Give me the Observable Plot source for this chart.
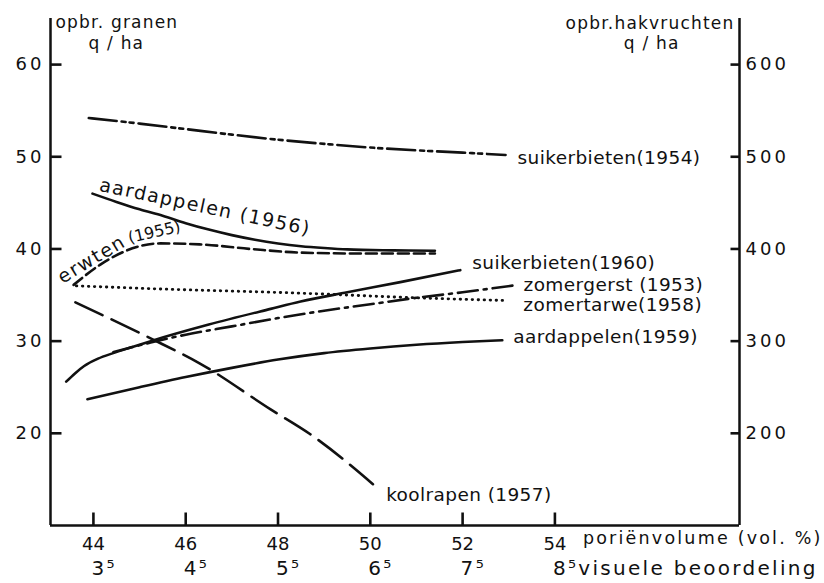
<!DOCTYPE html>
<html><head><meta charset="utf-8">
<script src="https://cdn.jsdelivr.net/npm/d3@7"></script>
<script src="https://cdn.jsdelivr.net/npm/@observablehq/plot@0.6"></script>
<style>
body{margin:0;background:#fff;}
#chart svg text{font-family:"DejaVu Sans",sans-serif;}
g[font-size="20"] text{letter-spacing:2.3px;}
g[font-size="17.5"] text{letter-spacing:2.2px;}
g[font-size="17"] text{letter-spacing:1.2px;}
g[font-size="18.5"] text{letter-spacing:0.4px;}
g[font-size="19"] text{letter-spacing:1.5px;}
g[aria-label="y-axis tick label"] text{letter-spacing:3px;}
g[aria-label="x-axis tick label"] text{letter-spacing:0px;}
</style></head><body><div id="chart"></div>
<script>
// ---- scales / ticks ----
const poreDomain = [43.07, 58];
const yieldDomain = [10, 65];           // q/ha granen (left); hakvruchten = x10 (right)
const granenTicks = [20, 30, 40, 50, 60];
const hakTicks = [200, 300, 400, 500, 600];
const poreTicks = [44, 46, 48, 50, 52, 54];
const visueleLabels = ["3⁵", "4⁵", "5⁵", "6⁵", "7⁵", "8⁵visuele beoordeling"];

// ---- hakvruchten series (q/ha, right axis) ----
const suiker1954X = [43.9, 45, 46, 47, 48, 49, 50, 51, 52, 52.93];
const suiker1954Y = [542, 536, 530, 524, 518.5, 514, 510, 507, 504.5, 502];
const aard1956X = [43.98, 44.5, 45, 45.5, 46, 46.5, 47, 47.5, 48, 48.5, 49, 49.5, 50.5, 51.4];
const aard1956Y = [460, 451, 443, 436, 428, 421, 415, 410, 406, 403, 401, 399.5, 398.5, 398];
const suiker1960X = [43.41, 43.6, 43.8, 44.1, 44.43, 44.8, 45.24, 46.5, 47.84, 48.49, 49.5, 50.65, 51.95];
const suiker1960Y = [256, 265, 273, 281, 287, 293, 300, 318, 335, 343, 353, 364, 377];
const aard1959X = [43.87, 45, 46, 47, 48, 49, 50, 51, 52, 52.86];
const aard1959Y = [237, 250, 261, 271, 280, 287, 292, 296, 299, 301];
const kool1957X = [43.61, 45.24, 46.3, 47.84, 48.7, 50.17];
const kool1957Y = [342, 303, 276, 226, 199, 140];

// ---- granen series (q/ha, left axis) ----
const erwten1955X = [43.57, 44.15, 45.0, 45.45, 46.3, 47.4, 48.5, 50, 51.4];
const erwten1955Y = [36.1, 38.3, 40.3, 40.6, 40.5, 40.0, 39.6, 39.5, 39.5];
const gerst1953X = [44.43, 45.24, 46, 47, 48, 49, 50, 51, 52, 53.19];
const gerst1953Y = [28.8, 29.85, 30.7, 31.6, 32.5, 33.3, 34.0, 34.7, 35.3, 36.1];
const tarwe1958X = [43.63, 45.2, 48.5, 51, 52.97];
const tarwe1958Y = [36.0, 35.7, 35.2, 34.7, 34.4];

const rows = (xs, ys, hak) => xs.map((x, i) => ({x, y: hak ? ys[i] / 10 : ys[i]}));
const S = {
  s1954: rows(suiker1954X, suiker1954Y, true),
  a1956: rows(aard1956X, aard1956Y, true),
  s1960: rows(suiker1960X, suiker1960Y, true),
  a1959: rows(aard1959X, aard1959Y, true),
  k1957: rows(kool1957X, kool1957Y, true),
  e1955: rows(erwten1955X, erwten1955Y, false),
  g1953: rows(gerst1953X, gerst1953Y, false),
  t1958: rows(tarwe1958X, tarwe1958Y, false)
};
const ink = "#111";
const W = 824, H = 583, mL = 50, mR = 85, mT = 18, mB = 58;
const fw = W - mL - mR, fh = H - mT - mB;
const line = (d, o = {}) => Plot.line(d, {x: "x", y: "y", curve: "monotone-x", stroke: ink, strokeWidth: 2.6, ...o});
const endLabel = (d, text, o) => Plot.text([d[d.length - 1]], {x: "x", y: "y", text: () => text, textAnchor: "start", fontSize: 18.5, fill: ink, ...o});
const atLabel = (d, i, text, o) => Plot.text([d[i]], {x: "x", y: "y", text: () => text, textAnchor: "start", fill: ink, ...o});
const pxX = fw / (poreDomain[1] - poreDomain[0]);   // pixels per x unit
const pxY = fh / (yieldDomain[1] - yieldDomain[0]); // pixels per y unit

const chart = Plot.plot({
  width: W, height: H,
  marginLeft: mL, marginRight: mR, marginTop: mT, marginBottom: mB,
  style: {fontFamily: "DejaVu Sans", fontSize: "18px", background: "#fff", color: ink, overflow: "visible"},
  x: {domain: poreDomain, axis: null},
  y: {domain: yieldDomain, axis: null},
  marks: [
    // axis lines
    Plot.ruleX(poreDomain, {stroke: ink, strokeWidth: 2.5}),
    Plot.ruleY([yieldDomain[0]], {stroke: ink, strokeWidth: 2.5}),
    // tick labels
    Plot.axisY(granenTicks, {anchor: "left", label: null, tickSize: 0, tickPadding: 6, fontSize: 18, fill: ink}),
    Plot.axisY(hakTicks.map(v => v / 10), {anchor: "right", label: null, tickSize: 0, tickPadding: 6, fontSize: 18, fill: ink, tickFormat: d => hakTicks[granenTicks.indexOf(d)]}),
    Plot.axisX(poreTicks, {anchor: "bottom", label: null, tickSize: 0, tickPadding: 12, fontSize: 18, fill: ink}),
    Plot.text(poreTicks, {x: d => d, frameAnchor: "bottom", dy: 49, text: d => visueleLabels[poreTicks.indexOf(d)], textAnchor: "start", fontSize: 20, fill: ink, dx: -2}),
    Plot.text([poreTicks[poreTicks.length - 1]], {x: d => d, frameAnchor: "bottom", dy: 18, text: () => "poriënvolume (vol. %)", textAnchor: "start", fontSize: 17.5, fill: ink, dx: 28}),
    // axis titles
    Plot.text(["opbr. granen"], {frameAnchor: "top-left", text: d => d, textAnchor: "start", lineAnchor: "middle", dx: 5, dy: 4, fontSize: 17, fill: ink}),
    Plot.text(["q / ha"], {frameAnchor: "top-left", text: d => d, textAnchor: "start", lineAnchor: "middle", dx: 38, dy: 25, fontSize: 17, fill: ink}),
    Plot.text(["opbr.hakvruchten"], {frameAnchor: "top-right", text: d => d, textAnchor: "end", lineAnchor: "middle", dx: -5, dy: 5, fontSize: 17, fill: ink}),
    Plot.text(["q / ha"], {frameAnchor: "top-right", text: d => d, textAnchor: "end", lineAnchor: "middle", dx: -60, dy: 25, fontSize: 17, fill: ink}),
    // curves
    line(S.s1954, {strokeDasharray: "28,5,4,4,4,5"}),
    line(S.a1956),
    line(S.e1955, {strokeDasharray: "11,5"}),
    line(S.t1958, {strokeDasharray: "0.5,5.5", strokeLinecap: "round", strokeWidth: 2.8}),
    line(S.g1953, {strokeDasharray: "20,6,3,6"}),
    line(S.s1960),
    line(S.a1959),
    line(S.k1957, {strokeDasharray: "30,10"}),
    // labels
    endLabel(S.s1954, "suikerbieten(1954)", {dx: 12, dy: 3}),
    endLabel(S.s1960, "suikerbieten(1960)", {dx: 12, dy: -7}),
    endLabel(S.g1953, "zomergerst (1953)", {dx: 6, dy: 0}),
    endLabel(S.t1958, "zomertarwe(1958)", {dx: 16, dy: 5}),
    endLabel(S.a1959, "aardappelen(1959)", {dx: 11, dy: -3}),
    endLabel(S.k1957, "koolrapen (1957)", {dx: 8, dy: 6}),
    atLabel(S.a1956, 0, "aardappelen (1956)", {dx: 6, dy: -3, rotate: 12, lineAnchor: "bottom", fontSize: 19}),
    atLabel(S.e1955, 0, "erwten", {dx: -11, dy: -1, rotate: -31, lineAnchor: "bottom", fontSize: 19}),
    atLabel(S.e1955, 2, "(1955)", {dx: -10, dy: -3, rotate: -13, lineAnchor: "bottom", fontSize: 16}),
    // inward tick marks (short links), drawn on top
    Plot.link(granenTicks, {x1: () => poreDomain[0], x2: () => poreDomain[0] + 11 / pxX, y1: d => d, y2: d => d, stroke: ink, strokeWidth: 2.6}),
    Plot.link(hakTicks, {x1: () => poreDomain[1] - 9 / pxX, x2: () => poreDomain[1], y1: d => d / 10, y2: d => d / 10, stroke: ink, strokeWidth: 2.6}),
    Plot.link(poreTicks, {x1: d => d, x2: d => d, y1: () => yieldDomain[0], y2: () => yieldDomain[0] + 13 / pxY, stroke: ink, strokeWidth: 2.6})
  ]
});
document.getElementById("chart").appendChild(chart);
</script></body></html>
